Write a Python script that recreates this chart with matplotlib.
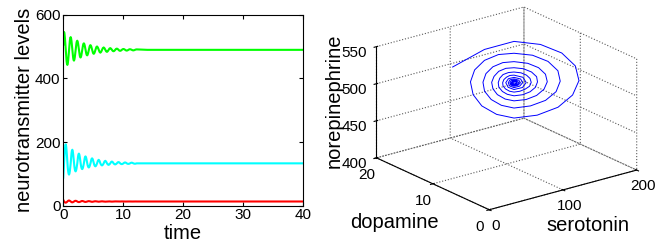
import numpy as np
import matplotlib
matplotlib.use("Agg")
import matplotlib.pyplot as plt

plt.rcParams['font.family'] = ['Liberation Sans', 'DejaVu Sans']
plt.rcParams['grid.linestyle'] = ':'
plt.rcParams['grid.color'] = '0.35'
plt.rcParams['grid.linewidth'] = 0.8

# values
# first part: one sample every 0.06875 time units (t = 0 .. 5.57)
nor_fine = [506, 532, 546.0, 540.6, 528.0, 510.1, 490.0, 470.7, 455.1, 445.3,
            442.6, 447.2, 457.9, 473.0, 490.0, 506.3, 519.5, 527.8,
            530.0, 526.2, 517.2, 504.4, 490.0, 476.2, 465.0, 458.0,
            456.1, 459.4, 467.0, 477.8, 490.0, 501.6, 511.1, 517.0,
            518.7, 515.9, 509.4, 500.3, 490.0, 480.1, 472.1, 467.1,
            465.8, 468.1, 473.6, 481.3, 490.0, 498.3, 505.1, 509.3,
            510.5, 508.5, 503.9, 497.4, 490.0, 482.9, 477.2, 473.7,
            472.6, 474.3, 478.2, 483.8, 490.0, 496.0, 500.8, 503.8,
            504.7, 503.3, 499.9, 495.3, 490.0, 484.9, 480.9, 478.3,
            477.6, 478.8, 481.6, 485.5, 490.0, 494.3, 497.7, 499.9]
ser_fine = [88, 112, 133.0, 157.4, 177.1, 189.4, 192.8, 187.2, 173.6, 154.5,
            133.0, 118.6, 106.9, 99.7, 97.6, 101.0, 109.0, 120.3,
            133.0, 150.4, 164.6, 173.4, 175.8, 171.7, 162.0, 148.4,
            133.0, 122.7, 114.3, 109.1, 107.7, 110.2, 115.8, 123.9,
            133.0, 145.5, 155.6, 161.9, 163.6, 160.7, 153.7, 144.0,
            133.0, 125.6, 119.6, 115.9, 114.9, 116.6, 120.7, 126.5,
            133.0, 141.9, 149.1, 153.7, 154.9, 152.8, 147.9, 140.9,
            133.0, 127.7, 123.4, 120.8, 120.0, 121.3, 124.2, 128.4,
            133.0, 139.4, 144.5, 147.8, 148.7, 147.2, 143.6, 138.6,
            133.0, 129.2, 126.1, 124.2, 123.7, 124.6, 126.7, 129.7]
dop_fine = [18, 15.5, 13.0, 11.5, 10.3, 9.5, 9.3, 9.7, 10.5, 11.7,
            13.0, 14.2, 15.3, 15.9, 16.1, 15.8, 15.1, 14.1,
            13.0, 12.0, 11.1, 10.5, 10.4, 10.6, 11.2, 12.1,
            13.0, 13.9, 14.6, 15.1, 15.2, 15.0, 14.5, 13.8,
            13.0, 12.2, 11.6, 11.2, 11.1, 11.3, 11.7, 12.3,
            13.0, 13.6, 14.2, 14.5, 14.6, 14.4, 14.1, 13.6,
            13.0, 12.5, 12.0, 11.7, 11.7, 11.8, 12.1, 12.5,
            13.0, 13.5, 13.8, 14.1, 14.1, 14.0, 13.8, 13.4,
            13.0, 12.6, 12.3, 12.1, 12.0, 12.1, 12.4, 12.7,
            13.0, 13.3, 13.6, 13.8, 13.8, 13.7, 13.5, 13.3]
# second part: one sample every 0.1375 time units (t = 5.64 .. 12.24)
nor_coarse = [500.5, 497.1, 490.0, 483.5, 481.1, 484.0, 490.0, 495.5,
              497.5, 495.1, 490.0, 485.3, 483.6, 485.7, 490.0, 494.0,
              495.4, 493.6, 490.0, 486.6, 485.5, 486.9, 490.0, 492.9,
              493.9, 492.6, 490.0, 487.6, 486.8, 487.8, 490.0, 492.0,
              492.7, 491.9, 490.0, 488.3, 487.6, 488.4, 490.0, 491.5,
              492.0, 491.3, 490.0, 488.8, 488.3, 488.9, 490.0, 491.0, 491.4]
ser_coarse = [133.0, 141.3, 144.2, 140.6, 133.0, 128.1, 126.4, 128.5,
              133.0, 138.9, 141.0, 138.4, 133.0, 129.5, 128.2, 129.8,
              133.0, 137.2, 138.7, 136.9, 133.0, 130.5, 129.6, 130.7,
              133.0, 136.0, 137.1, 135.8, 133.0, 131.2, 130.5, 131.4,
              133.0, 135.2, 135.9, 135.0, 133.0, 131.7, 131.3, 131.8,
              133.0, 134.6, 135.1, 134.4, 133.0, 132.1, 131.8, 132.2, 133.0]
dop_coarse = [13.0, 12.5, 12.3, 12.5, 13.0, 13.4, 13.6, 13.4,
              13.0, 12.6, 12.5, 12.7, 13.0, 13.3, 13.4, 13.3,
              13.0, 12.7, 12.6, 12.8, 13.0, 13.2, 13.3, 13.2,
              13.0, 12.8, 12.7, 12.8, 13.0, 13.2, 13.2, 13.1,
              13.0, 12.9, 12.8, 12.9, 13.0, 13.1, 13.2, 13.1,
              13.0, 12.9, 12.9, 12.9, 13.0, 13.1, 13.1, 13.1, 13.0]
# steady state afterwards
tail_time = [14, 20, 30, 40]
tail_nor = [490, 490, 490, 490]
tail_ser = [133, 133, 133, 133]
tail_dop = [13, 13, 13, 13]

time = np.concatenate([np.arange(len(nor_fine)) * 0.06875,
                       5.6375 + np.arange(len(nor_coarse)) * 0.1375,
                       tail_time])
nor = np.concatenate([nor_fine, nor_coarse, tail_nor])
ser = np.concatenate([ser_fine, ser_coarse, tail_ser])
dop = np.concatenate([dop_fine, dop_coarse, tail_dop])

fig = plt.figure(figsize=(6.59, 2.52), dpi=100)

# left: time series
ax = fig.add_axes([0.096, 0.184, 0.364, 0.757])
ax.plot(time, nor, color='lime', lw=1.5)
ax.plot(time, ser, color='cyan', lw=1.5)
ax.plot(time, dop, color='red', lw=1.5)
ax.set_xlim(0, 40)
ax.set_ylim(0, 600)
ax.set_xticks([0, 10, 20, 30, 40])
ax.set_yticks([0, 200, 400, 600])
ax.tick_params(direction='in', top=True, right=True, length=3, labelsize=11, pad=2)
ax.set_xlabel('time', fontsize=14.5, labelpad=1)
ax.set_ylabel('neurotransmitter levels', fontsize=14.5, labelpad=1)

# right: phase space
ax3 = fig.add_axes([0.463, 0.0, 0.6, 1.11], projection='3d', proj_type='ortho')
ax3.plot(ser, dop, nor, color='blue', lw=0.7)
ax3.set_xlim(0, 200)
ax3.set_ylim(0, 20)
ax3.set_zlim(400, 550)
ax3.set_xticks([0, 100, 200])
ax3.set_yticks([0, 10, 20])
ax3.set_zticks([400, 450, 500, 550])
ax3.view_init(elev=20.6, azim=-127.4)
ax3.set_box_aspect((1, 1, 0.64))
for a in (ax3.xaxis, ax3.yaxis, ax3.zaxis):
    a.pane.fill = False
    a.pane.set_edgecolor('none')
    a._axinfo['grid']['linestyle'] = ':'
    a._axinfo['grid']['color'] = '0.35'
    a.line.set_color('black')
    a.set_rotate_label(False)
ax3.tick_params(labelsize=11)
ax3.tick_params(axis='x', pad=-2)
ax3.tick_params(axis='y', pad=-1)
ax3.tick_params(axis='z', pad=1)
ax3.set_xlabel('serotonin', fontsize=14.5, rotation=0, labelpad=2)
ax3.set_ylabel('dopamine', fontsize=14.5, rotation=0, labelpad=6)
ax3.set_zlabel('norepinephrine', fontsize=14.5, rotation=90, labelpad=-4)

fig.savefig('out.png', dpi=100)
